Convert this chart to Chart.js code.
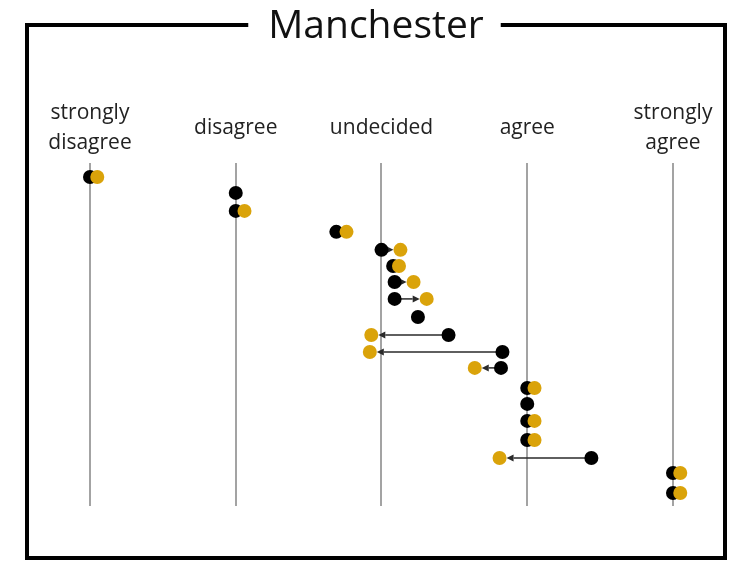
<!DOCTYPE html>
<html><head><meta charset="utf-8">
<script src="https://cdn.jsdelivr.net/npm/chart.js@4/dist/chart.umd.min.js"></script>
<style>html,body{margin:0;padding:0;background:#fff}#wrap{width:736px;height:561px;position:relative}</style>
</head><body><div id="wrap"><canvas id="c"></canvas></div>
<script>
// Response categories (Likert scale) and their scale values
const categories = [['strongly','disagree'], 'disagree', 'undecided', 'agree', ['strongly','agree']];
const categoryValues = [1, 2, 3, 4, 5];
const chartTitle = 'Manchester';

// Vertical position of each respondent row (0 = top of lines, 20 = bottom)
const rowPos = [0.82, 1.75, 2.80, 4.02, 5.07, 6.01, 6.94, 7.93, 8.98, 10.03, 11.02, 11.95, 13.12, 14.05, 15.04, 16.15, 17.20, 18.08, 19.24];
// Response before (black) and after (yellow); null = no after response shown
const before = [1.00, 2.00, 2.00, 2.69, 3.00, 3.08, 3.09, 3.09, 3.25, 3.46, 3.83, 3.82, 4.00, 4.00, 4.00, 4.00, 4.44, 5.00, 5.00];
const after  = [1.05, null, 2.06, 2.76, 3.13, 3.12, 3.22, 3.31, null, 2.93, 2.92, 3.64, 4.05, null, 4.05, 4.05, 3.81, 5.05, 5.05];

const BLACK = '#000000';
const YELLOW = '#DAA30A';
const R = 7;

const arrowPlugin = {
  id: 'arrows',
  beforeDatasetsDraw(chart) {
    const { ctx, scales: { x, y } } = chart;
    ctx.save();
    ctx.strokeStyle = '#2a2a2a';
    ctx.fillStyle = '#2a2a2a';
    ctx.lineWidth = 1.5;
    before.forEach((b, i) => {
      const a = after[i];
      if (a == null || Math.abs(a - b) < 0.1) return;
      const x0 = x.getPixelForValue(b), x1 = x.getPixelForValue(a), yy = y.getPixelForValue(rowPos[i]);
      const dir = Math.sign(x1 - x0);
      const tip = x1 - dir * R;
      const head = 7;
      ctx.beginPath(); ctx.moveTo(x0, yy); ctx.lineTo(tip - dir * head, yy); ctx.stroke();
      ctx.beginPath(); ctx.moveTo(tip, yy); ctx.lineTo(tip - dir * head, yy - 3.5); ctx.lineTo(tip - dir * head, yy + 3.5); ctx.closePath(); ctx.fill();
    });
    ctx.restore();
  }
};

const framePlugin = {
  id: 'frame',
  beforeDraw(chart) {
    const ctx = chart.ctx;
    ctx.save(); ctx.fillStyle = '#fff'; ctx.fillRect(0, 0, chart.width, chart.height); ctx.restore();
  },
  afterDraw(chart) {
    const ctx = chart.ctx;
    ctx.save();
    ctx.font = '39px "Open Sans"';
    const w = ctx.measureText(chartTitle).width;
    const cx = 376;
    const gapL = cx - w / 2 - 20, gapR = cx + w / 2 + 17;
    ctx.strokeStyle = '#000'; ctx.lineWidth = 4; ctx.lineJoin = 'miter';
    ctx.beginPath();
    ctx.moveTo(gapL, 25); ctx.lineTo(27, 25); ctx.lineTo(27, 558); ctx.lineTo(725, 558); ctx.lineTo(725, 25); ctx.lineTo(gapR, 25);
    ctx.stroke();
    ctx.restore();
  }
};

const toPoints = (xs) => xs.map((v, i) => v == null ? null : ({ x: v, y: rowPos[i] })).filter(p => p);

new Chart(document.getElementById('c'), {
  type: 'scatter',
  data: {
    datasets: [
      { label: 'after', data: toPoints(after), backgroundColor: YELLOW, borderWidth: 0, pointRadius: R, pointHoverRadius: R, order: 0 },
      { label: 'before', data: toPoints(before), backgroundColor: BLACK, borderWidth: 0, pointRadius: R, pointHoverRadius: R, order: 1 }
    ]
  },
  options: {
    responsive: true,
    maintainAspectRatio: false,
    animation: false,
    events: [],
    layout: { padding: { left: 29, right: 13, top: 0, bottom: 55 } },
    plugins: {
      legend: { display: false },
      tooltip: { enabled: false },
      title: {
        display: true,
        text: chartTitle,
        color: '#111',
        font: { family: 'Open Sans', size: 39, weight: 'normal', lineHeight: 1.2 },
        padding: { top: 3, bottom: 13 }
      }
    },
    scales: {
      x: {
        type: 'linear',
        position: 'top',
        min: 0.5815,
        max: 5.3431,
        afterBuildTicks: (s) => { s.ticks = categoryValues.map(v => ({ value: v })); },
        grid: { color: '#a3a3a3', lineWidth: 2, drawTicks: false },
        border: { display: false },
        ticks: {
          padding: 20,
          autoSkip: false,
          maxRotation: 0,
          color: '#222',
          crossAlign: 'center',
          font: { family: 'Open Sans', size: 21, lineHeight: 1.43 },
          callback: (v) => { const i = categoryValues.indexOf(v); return i >= 0 ? categories[i] : ''; }
        }
      },
      y: { type: 'linear', display: false, min: 0, max: 20, reverse: true }
    }
  },
  plugins: [arrowPlugin, framePlugin]
});
</script>
</body></html>
